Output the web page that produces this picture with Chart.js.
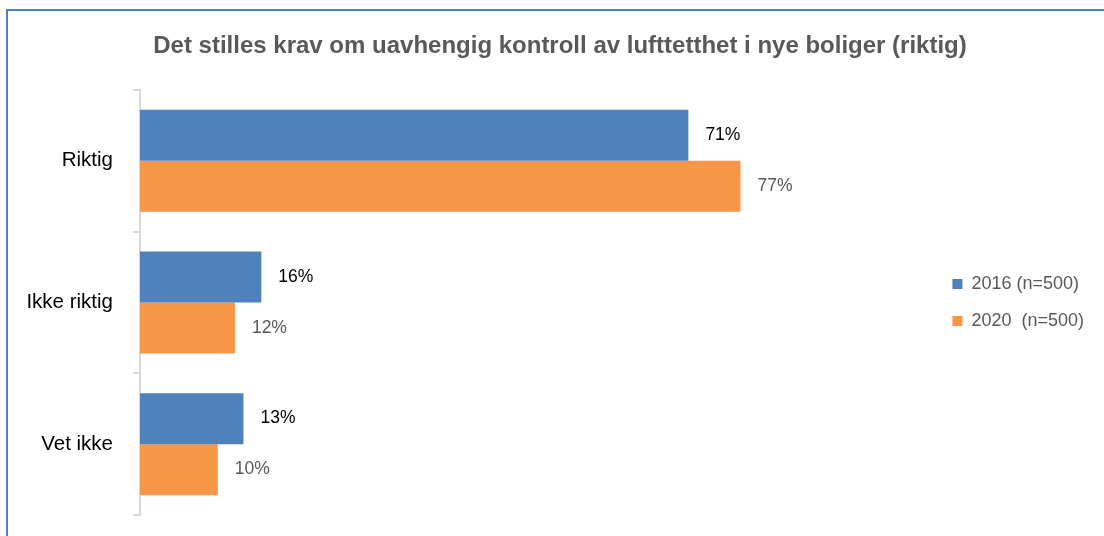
<!DOCTYPE html>
<html>
<head>
<meta charset="utf-8">
<script src="https://cdn.jsdelivr.net/npm/chart.js@4/dist/chart.umd.min.js"></script>
<style>
    html, body { margin: 0; padding: 0; background: #fff; overflow: hidden; }
    #frame {
        position: absolute; left: 6px; top: 9px; width: 1200px; height: 600px;
        border-left: 2px solid #4f81bd; border-top: 2px solid #4f81bd;
    }
    #wrap { position: absolute; left: 0; top: 11px; width: 1104px; height: 525px; }
</style>
</head>
<body>
<div id="frame"></div>
<div id="wrap"><canvas id="barChart"></canvas></div>
<script>
var chartTitle = 'Det stilles krav om uavhengig kontroll av lufttetthet i nye boliger (riktig)';
var categories = ['Riktig', 'Ikke riktig', 'Vet ikke'];
var seriesNames = ['2016 (n=500)', '2020  (n=500)'];
var values2016 = [70.5, 15.6, 13.3];
var values2020 = [77.2, 12.2, 10.0];

Chart.defaults.font.family = "'Liberation Sans', Arial, sans-serif";

// value labels next to the bars
var barLabels = {
    id: 'barLabels',
    afterDatasetsDraw: function (chart) {
        var ctx = chart.ctx;
        ctx.save();
        ctx.font = "17.5px 'Liberation Sans', Arial, sans-serif";
        ctx.textAlign = 'left';
        ctx.textBaseline = 'middle';
        chart.data.datasets.forEach(function (ds, i) {
            var meta = chart.getDatasetMeta(i);
            ctx.fillStyle = i === 0 ? '#000000' : '#595959';
            meta.data.forEach(function (bar, j) {
                ctx.fillText(Math.round(ds.data[j]) + '%', bar.x + 17, bar.y);
            });
        });
        ctx.restore();
    }
};

var ctx = document.getElementById('barChart');
var barChart = new Chart(ctx, {
    type: 'bar',
    data: {
        labels: categories,
        datasets: [{
            label: seriesNames[0],
            backgroundColor: '#4f81bd',
            borderWidth: 0,
            data: values2016
        }, {
            label: seriesNames[1],
            backgroundColor: '#f79646',
            borderWidth: 0,
            data: values2020
        }]
    },
    options: {
        indexAxis: 'y',
        responsive: true,
        maintainAspectRatio: false,
        animation: false,
        categoryPercentage: 0.72,
        barPercentage: 1.0,
        layout: { padding: { left: 26, right: 10, top: 0, bottom: 21 } },
        plugins: {
            tooltip: { enabled: false },
            title: {
                display: true,
                text: chartTitle,
                color: '#595959',
                font: { size: 24, weight: 'bold', lineHeight: 1.2 },
                padding: { top: 20.6, bottom: 29.6 }
            },
            legend: {
                position: 'right',
                fullSize: false,
                labels: {
                    color: '#595959',
                    font: { size: 18 },
                    boxWidth: 10,
                    boxHeight: 10,
                    padding: 19
                }
            }
        },
        scales: {
            x: {
                display: false,
                min: 0,
                max: 102
            },
            y: {
                afterFit: function (scale) {
                    scale.width = 114;
                    scale.paddingTop = 0;
                    scale.paddingBottom = 0;
                },
                border: { display: true, color: '#d9d9d9', width: 2 },
                grid: {
                    offset: true,
                    drawOnChartArea: false,
                    drawTicks: true,
                    tickLength: 7,
                    color: '#d9d9d9',
                    lineWidth: 2
                },
                ticks: {
                    color: '#000000',
                    font: { size: 20.5 },
                    padding: 20
                }
            }
        }
    },
    plugins: [barLabels]
});
</script>
</body>
</html>
